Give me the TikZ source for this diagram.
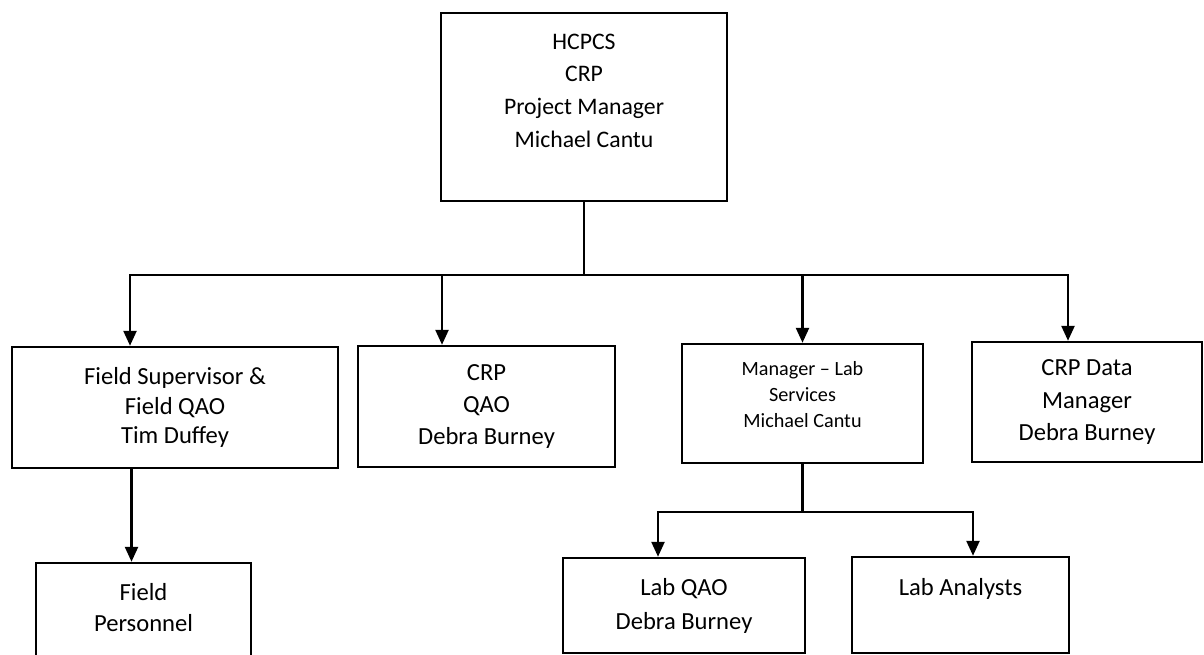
\documentclass[tikz,border=0pt]{standalone}
\usepackage{fontspec}
\setmainfont{Carlito}
\usetikzlibrary{arrows.meta}

\begin{document}
\begin{tikzpicture}[x=0.02cm, y=-0.02cm,
box_style/.style={rectangle, draw=black, line width=1.4pt, fill=white, align=center, inner sep=0pt},
top_text/.style={anchor=north, align=center, inner sep=0pt},
edge_style/.style={line width=1.4pt, black},
arrow_style/.style={edge_style, -{Triangle[length=0.3cm, width=0.26cm]}},
		]

\useasboundingbox (0,0) rectangle (1204,655);
\clip (0,0) rectangle (1204,655);

	% manager on top
	\node[box_style, minimum width=5.72cm, minimum height=3.76cm, label={[top_text, yshift=-0.43cm, font=\fontsize{13.5}{18.7}\selectfont]north:HCPCS\\CRP\\Project Manager\\Michael Cantu}] (top) at (584,107) {};

	% second row
	\node[box_style, minimum width=6.52cm, minimum height=2.42cm, font=\fontsize{14}{17}\selectfont] (fs) at (175,407.5) {Field Supervisor \&\\Field QAO\\Tim Duffey};
	\node[box_style, minimum width=5.14cm, minimum height=2.42cm, font=\fontsize{14}{18}\selectfont] (qao) at (486.5,406.5) {CRP\\QAO\\Debra Burney};
	\node[box_style, minimum width=4.82cm, minimum height=2.38cm, label={[top_text, yshift=-0.37cm, font=\fontsize{11.5}{14.7}\selectfont]north:Manager – Lab\\Services\\Michael Cantu}] (lab) at (802.5,403.5) {};
	\node[box_style, minimum width=4.6cm, minimum height=2.4cm, font=\fontsize{14}{18.7}\selectfont] (data) at (1087,402) {CRP Data\\Manager\\Debra Burney};

	% third row
	\node[box_style, minimum width=4.3cm, minimum height=2.74cm, label={[top_text, yshift=-0.42cm, font=\fontsize{14}{17.6}\selectfont]north:Field\\Personnel}] (fp) at (143.5,631.5) {};
	\node[box_style, minimum width=4.84cm, minimum height=1.9cm, font=\fontsize{14}{19.3}\selectfont] (lqao) at (684,605.5) {Lab QAO\\Debra Burney};
	\node[box_style, minimum width=4.34cm, minimum height=1.92cm, label={[top_text, yshift=-0.44cm, font=\fontsize{14}{18}\selectfont]north:Lab Analysts}] (lan) at (960.5,605) {};

	% connectors
	\path (top.south) ++(0,73) coordinate (hub);
	\draw[edge_style] (top.south) -- (hub);
	\foreach \target/\dx in {fs/-0.9, qao/-0.89, lab/0, data/-0.38}{
		\draw[arrow_style] (hub) -| ([xshift=\dx cm]\target.north);
		}

	\draw[arrow_style] ([xshift=-0.87cm]fs.south) -- ([xshift=-0.87cm]fs.south |- fp.north);

	\path (lab.south) ++(0,48) coordinate (labhub);
	\draw[edge_style] (lab.south) -- (labhub);
	\foreach \target/\dx in {lqao/-0.52, lan/0.25}{
		\draw[arrow_style] (labhub) -| ([xshift=\dx cm]\target.north);
		}

\end{tikzpicture}
\end{document}
